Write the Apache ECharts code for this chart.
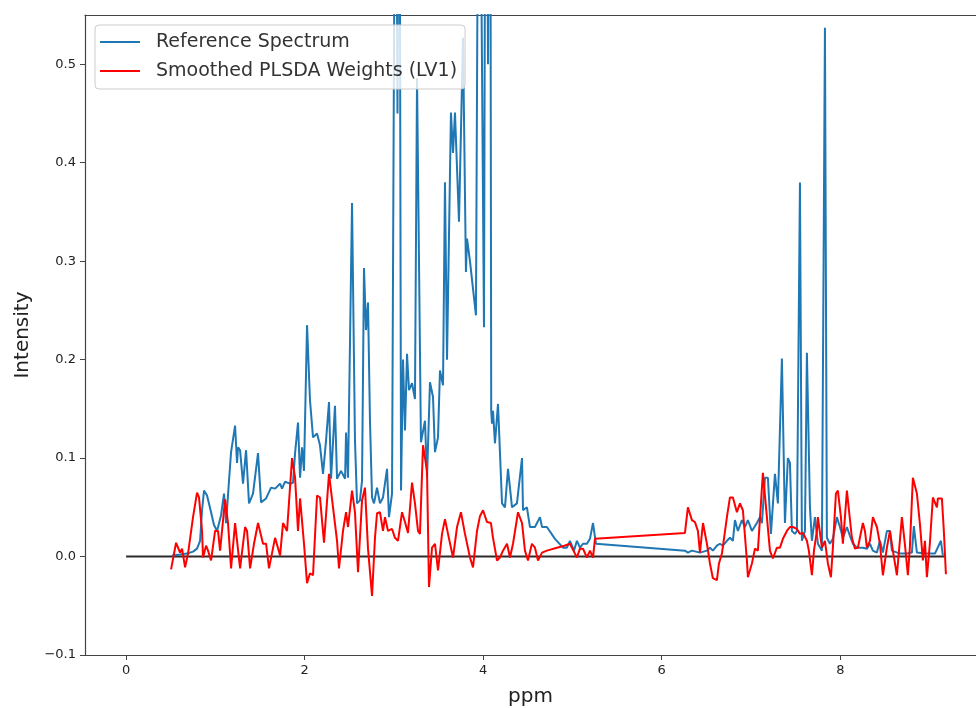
<!DOCTYPE html>
<html>
<head>
<meta charset="utf-8">
<title>PLSDA weights vs reference spectrum</title>
<script src="https://cdn.jsdelivr.net/npm/echarts@6/dist/echarts.min.js"></script>
<style>
  html, body { margin: 0; padding: 0; background: #fff; }
  #chart { width: 976px; height: 708px; }
</style>
</head>
<body>
<div id="chart"></div>
<script>
// ppm, intensity
const refSpectrum = [
  [0.515, 0.001], [0.605, 0.002], [0.683, 0.003], [0.75, 0.005], [0.795, 0.008],
  [0.829, 0.016], [0.851, 0.047], [0.873, 0.067], [0.907, 0.062], [0.952, 0.045],
  [0.985, 0.032], [1.019, 0.026], [1.064, 0.042], [1.097, 0.064], [1.12, 0.034],
  [1.153, 0.077], [1.176, 0.106], [1.198, 0.108], [1.221, 0.133], [1.243, 0.095],
  [1.254, 0.111], [1.277, 0.108], [1.31, 0.074], [1.344, 0.108], [1.377, 0.054],
  [1.422, 0.064], [1.478, 0.105], [1.512, 0.055], [1.568, 0.059], [1.624, 0.07],
  [1.669, 0.069], [1.725, 0.074], [1.747, 0.069], [1.781, 0.076], [1.837, 0.074],
  [1.87, 0.075], [1.893, 0.105], [1.926, 0.136], [1.949, 0.08], [1.971, 0.111],
  [1.993, 0.087], [2.027, 0.235], [2.06, 0.159], [2.094, 0.121], [2.139, 0.125],
  [2.172, 0.113], [2.206, 0.084], [2.24, 0.118], [2.273, 0.157], [2.296, 0.079],
  [2.34, 0.153], [2.363, 0.079], [2.408, 0.087], [2.453, 0.079], [2.464, 0.126],
  [2.486, 0.08], [2.531, 0.359], [2.564, 0.118], [2.587, 0.054], [2.62, 0.057],
  [2.643, 0.077], [2.665, 0.293], [2.688, 0.23], [2.71, 0.258], [2.732, 0.138],
  [2.755, 0.06], [2.777, 0.054], [2.811, 0.07], [2.844, 0.054], [2.878, 0.06],
  [2.923, 0.089], [2.945, 0.04], [2.979, 0.064], [3.02, 0.9], [3.04, 0.45],
  [3.06, 0.9], [3.08, 0.067], [3.102, 0.2], [3.124, 0.128], [3.147, 0.206],
  [3.169, 0.169], [3.203, 0.176], [3.236, 0.16], [3.259, 0.486], [3.303, 0.116],
  [3.348, 0.138], [3.371, 0.08], [3.404, 0.177], [3.438, 0.162], [3.46, 0.106],
  [3.494, 0.121], [3.516, 0.189], [3.55, 0.174], [3.572, 0.38], [3.595, 0.2],
  [3.639, 0.451], [3.662, 0.41], [3.684, 0.451], [3.729, 0.34], [3.774, 0.527],
  [3.807, 0.289], [3.819, 0.323], [3.852, 0.3], [3.919, 0.245], [3.953, 0.9],
  [4.009, 0.233], [4.031, 1.0], [4.054, 0.5], [4.076, 1.0], [4.09, 0.148],
  [4.099, 0.135], [4.11, 0.148], [4.132, 0.115], [4.166, 0.155], [4.211, 0.054],
  [4.244, 0.05], [4.278, 0.089], [4.323, 0.05], [4.378, 0.054], [4.435, 0.1],
  [4.446, 0.047], [4.49, 0.05], [4.524, 0.03], [4.58, 0.03], [4.636, 0.04],
  [4.659, 0.03], [4.714, 0.03], [4.804, 0.018], [4.894, 0.009], [4.938, 0.009],
  [4.972, 0.016], [5.017, 0.006], [5.05, 0.016], [5.084, 0.009], [5.118, 0.013],
  [5.162, 0.013], [5.196, 0.018], [5.23, 0.034], [5.263, 0.013], [6.26, 0.006],
  [6.293, 0.004], [6.338, 0.006], [6.428, 0.004], [6.506, 0.006], [6.54, 0.009],
  [6.573, 0.006], [6.618, 0.011], [6.652, 0.013], [6.685, 0.011], [6.73, 0.016],
  [6.764, 0.019], [6.797, 0.016], [6.82, 0.037], [6.853, 0.026], [6.898, 0.037],
  [6.932, 0.03], [6.965, 0.037], [7.01, 0.026], [7.066, 0.034], [7.1, 0.04],
  [7.122, 0.034], [7.156, 0.08], [7.189, 0.08], [7.223, 0.023], [7.268, 0.084],
  [7.301, 0.054], [7.346, 0.201], [7.38, 0.034], [7.413, 0.1], [7.436, 0.095],
  [7.458, 0.026], [7.492, 0.023], [7.514, 0.026], [7.548, 0.38], [7.57, 0.016],
  [7.604, 0.026], [7.626, 0.207], [7.66, 0.05], [7.682, 0.016], [7.716, 0.04],
  [7.749, 0.013], [7.794, 0.006], [7.828, 0.537], [7.85, 0.019], [7.884, 0.013],
  [7.917, 0.018], [7.962, 0.04], [7.996, 0.03], [8.029, 0.019], [8.074, 0.03],
  [8.108, 0.021], [8.141, 0.013], [8.186, 0.009], [8.253, 0.009], [8.298, 0.008],
  [8.332, 0.013], [8.365, 0.006], [8.41, 0.004], [8.444, 0.016], [8.477, 0.004],
  [8.522, 0.026], [8.556, 0.026], [8.578, 0.006], [8.668, 0.003], [8.746, 0.003],
  [8.802, 0.004], [8.824, 0.031], [8.858, 0.004], [8.948, 0.003], [9.06, 0.003],
  [9.127, 0.016], [9.149, 0.001]
];

const plsdaWeights = [
  [0.504, -0.013], [0.56, 0.014], [0.605, 0.004], [0.627, 0.008], [0.661, -0.011],
  [0.694, 0.003], [0.75, 0.04], [0.795, 0.065], [0.817, 0.06], [0.851, 0.026],
  [0.862, -0.001], [0.896, 0.011], [0.918, 0.006], [0.952, -0.004], [0.997, 0.026],
  [1.03, 0.026], [1.053, 0.006], [1.109, 0.058], [1.142, 0.034], [1.176, -0.012],
  [1.221, 0.034], [1.277, -0.012], [1.333, 0.03], [1.355, 0.026], [1.389, -0.012],
  [1.433, 0.013], [1.478, 0.034], [1.534, 0.013], [1.568, 0.013], [1.601, -0.012],
  [1.669, 0.019], [1.725, 0.001], [1.758, 0.034], [1.803, 0.026], [1.859, 0.1],
  [1.893, 0.08], [1.926, 0.026], [1.949, 0.059], [1.993, 0.013], [2.027, -0.027],
  [2.06, -0.017], [2.094, -0.019], [2.139, 0.062], [2.172, 0.06], [2.217, 0.014],
  [2.273, 0.084], [2.318, 0.05], [2.363, 0.016], [2.385, -0.012], [2.43, 0.026],
  [2.464, 0.045], [2.486, 0.03], [2.531, 0.067], [2.564, 0.045], [2.598, -0.016],
  [2.643, 0.057], [2.676, 0.07], [2.71, 0.008], [2.755, -0.04], [2.788, 0.019],
  [2.811, 0.044], [2.844, 0.045], [2.878, 0.026], [2.9, 0.04], [2.934, 0.026],
  [2.979, 0.028], [3.012, 0.019], [3.046, 0.016], [3.091, 0.045], [3.124, 0.035],
  [3.158, 0.024], [3.203, 0.075], [3.236, 0.054], [3.27, 0.026], [3.292, 0.023],
  [3.326, 0.113], [3.371, 0.087], [3.393, -0.031], [3.427, 0.009], [3.46, 0.013],
  [3.494, -0.014], [3.539, 0.023], [3.572, 0.038], [3.606, 0.023], [3.662, -0.001],
  [3.707, 0.03], [3.751, 0.045], [3.796, 0.023], [3.852, -0.001], [3.886, -0.011],
  [3.931, 0.026], [3.964, 0.041], [3.998, 0.047], [4.043, 0.035], [4.087, 0.034],
  [4.11, 0.019], [4.155, -0.004], [4.188, -0.001], [4.222, 0.006], [4.267, 0.013],
  [4.3, -0.001], [4.334, 0.013], [4.39, 0.045], [4.435, 0.034], [4.468, 0.006],
  [4.502, -0.004], [4.546, 0.013], [4.58, 0.009], [4.614, -0.004], [4.659, 0.004],
  [4.714, 0.006], [4.826, 0.009], [4.91, 0.011], [4.972, 0.013], [5.028, 0.003],
  [5.05, -0.001], [5.084, 0.008], [5.118, 0.008], [5.162, -0.001], [5.196, 0.006],
  [5.23, -0.001], [5.252, 0.018], [6.26, 0.024], [6.293, 0.05], [6.338, 0.037],
  [6.372, 0.035], [6.405, 0.026], [6.428, 0.004], [6.462, 0.034], [6.506, 0.013],
  [6.54, -0.007], [6.573, -0.022], [6.618, -0.024], [6.641, -0.007], [6.674, 0.003],
  [6.73, 0.04], [6.764, 0.06], [6.797, 0.06], [6.842, 0.045], [6.876, 0.054],
  [6.909, 0.047], [6.954, -0.004], [6.965, -0.021], [7.01, -0.007], [7.044, 0.008],
  [7.077, 0.006], [7.111, 0.054], [7.133, 0.085], [7.178, 0.04], [7.212, 0.006],
  [7.245, -0.002], [7.29, 0.009], [7.324, 0.009], [7.357, 0.018], [7.402, 0.026],
  [7.436, 0.03], [7.469, 0.03], [7.514, 0.028], [7.548, 0.023], [7.581, 0.024],
  [7.626, 0.016], [7.648, 0.006], [7.682, -0.019], [7.705, 0.006], [7.738, 0.026],
  [7.749, 0.04], [7.794, 0.009], [7.828, 0.016], [7.861, -0.007], [7.895, -0.021],
  [7.917, 0.009], [7.951, 0.064], [7.973, 0.067], [8.007, 0.04], [8.029, 0.013],
  [8.052, 0.04], [8.074, 0.067], [8.097, 0.047], [8.13, 0.019], [8.164, 0.008],
  [8.197, 0.009], [8.253, 0.034], [8.276, 0.026], [8.298, 0.009], [8.332, 0.016],
  [8.365, 0.04], [8.41, 0.03], [8.444, 0.013], [8.477, -0.019], [8.522, 0.009],
  [8.556, 0.026], [8.589, 0.006], [8.634, -0.019], [8.69, 0.04], [8.723, 0.013],
  [8.757, -0.019], [8.779, 0.009], [8.813, 0.08], [8.858, 0.064], [8.891, 0.034],
  [8.925, -0.004], [8.948, 0.016], [8.97, -0.021], [9.003, 0.013], [9.037, 0.06],
  [9.082, 0.05], [9.093, 0.059], [9.138, 0.059], [9.16, 0.026], [9.183, -0.018]
];

const baseline = [[0, 0], [9.18, 0]];

const xTicks = [0, 2, 4, 6, 8];
const yTicks = [-0.1, 0, 0.1, 0.2, 0.3, 0.4, 0.5];

const font = 'DejaVu Sans';
const frame = { color: '#444', width: 1.2 };
const chart = echarts.init(document.getElementById('chart'));

// the original axes run past the right edge of the picture, so the
// visible part of the x range ends before the true axis end
chart.setOption({
  animation: false,
  grid: {
    left: 85,
    top: 15,
    right: 0,
    bottom: 53,
    outerBoundsMode: 'none'
  },
  legend: {
    orient: 'vertical',
    left: 95,
    top: 25,
    padding: [7, 8, 8, 5],
    icon: 'rect',
    itemWidth: 40,
    itemHeight: 2,
    itemGap: 9,
    backgroundColor: 'rgba(255,255,255,0.8)',
    borderColor: '#ccc',
    borderWidth: 1,
    borderRadius: 4,
    textStyle: {
      fontFamily: font,
      fontSize: 19,
      lineHeight: 20,
      color: '#333',
      padding: [0, 0, 0, 11]
    },
    data: ['Reference Spectrum', 'Smoothed PLSDA Weights (LV1)']
  },
  xAxis: [
    {
      type: 'value',
      min: -0.46,
      max: 9.52,
      name: 'ppm',
      nameLocation: 'middle',
      nameGap: 32,
      nameTextStyle: { fontFamily: font, fontSize: 20, color: '#222' },
      axisLine: { show: true, onZero: false, lineStyle: frame },
      axisTick: { show: true, length: 5, lineStyle: { color: '#444' }, customValues: xTicks },
      axisLabel: {
        fontFamily: font, fontSize: 13, color: '#222', margin: 9,
        customValues: xTicks
      },
      splitLine: { show: false }
    },
    {
      type: 'value',
      position: 'top',
      min: -0.46,
      max: 9.52,
      axisLine: { show: true, onZero: false, lineStyle: frame },
      axisTick: { show: false },
      axisLabel: { show: false },
      splitLine: { show: false }
    }
  ],
  yAxis: {
    type: 'value',
    min: -0.1,
    max: 0.55,
    name: 'Intensity',
    nameLocation: 'middle',
    nameGap: 52,
    nameRotate: 90,
    nameTextStyle: { fontFamily: font, fontSize: 20, color: '#222' },
    axisLine: { show: true, onZero: false, lineStyle: frame },
    axisTick: { show: true, length: 5, lineStyle: { color: '#444' }, customValues: yTicks },
    axisLabel: {
      fontFamily: font, fontSize: 13, color: '#222', margin: 9,
      customValues: yTicks,
      formatter: function (v) {
        return v < 0 ? '\u2212' + Math.abs(v).toFixed(1) : v.toFixed(1);
      }
    },
    splitLine: { show: false }
  },
  series: [
    {
      name: 'baseline',
      type: 'line',
      data: baseline,
      symbol: 'none',
      lineStyle: { color: '#2b2b2b', width: 2 },
      silent: true,
      z: 1
    },
    {
      name: 'Reference Spectrum',
      type: 'line',
      data: refSpectrum,
      symbol: 'none',
      color: '#1f77b4',
      lineStyle: { color: '#1f77b4', width: 2 },
      clip: true,
      z: 2
    },
    {
      name: 'Smoothed PLSDA Weights (LV1)',
      type: 'line',
      data: plsdaWeights,
      symbol: 'none',
      color: '#ff0000',
      lineStyle: { color: '#ff0000', width: 2 },
      clip: true,
      z: 3
    }
  ]
});
</script>
</body>
</html>
